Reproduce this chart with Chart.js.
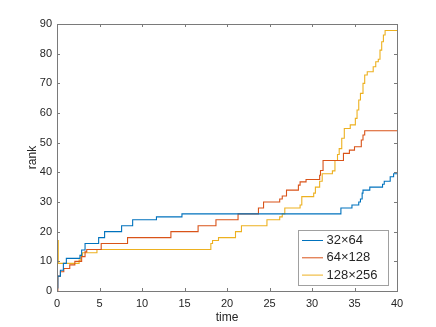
<!DOCTYPE html>
<html>
<head>
<meta charset="utf-8">
<script src="https://cdn.jsdelivr.net/npm/chart.js@4"></script>
<style>
  html, body { margin: 0; padding: 0; background: #fff; }
  #wrap { width: 436px; height: 327px; }
</style>
</head>
<body>
<div id="wrap"><canvas id="myChart"></canvas></div>
<script>
// data (step series: value becomes r at time t)
var labels = ['32\u00d764', '64\u00d7128', '128\u00d7256']

var blueT = [0, 0.1, 0.4, 0.75, 1.1, 2.7, 2.9, 3.3, 4.9, 5.6, 7.6, 8.9, 11.7, 14.7, 33.4, 34.7, 35.5, 35.7, 35.9, 36.0, 36.8, 38.3, 38.5, 39.2, 39.6, 40]
var blueR = [1, 5, 7, 9.3, 11, 12, 13.8, 16, 18, 20, 22, 24, 25, 26, 28, 29, 30, 31, 33, 34, 35, 36, 37, 38.5, 39.5, 39.5]

var redT = [0, 0.1, 0.4, 0.8, 1.5, 2.1, 2.9, 3.3, 3.5, 5.2, 8.3, 13.4, 16.6, 18.7, 21.3, 23.7, 24.3, 26.2, 26.5, 27.0, 28.4, 28.6, 29.3, 30.9, 31.0, 31.3, 33.7, 34.4, 35.0, 35.8, 36.0, 36.2, 40]
var redR = [0, 5, 6.5, 7.6, 8.8, 10, 11.6, 13.2, 14, 16, 18, 20, 22, 24, 26, 28, 30, 31, 32, 34, 35.7, 36.8, 37.6, 39, 40.6, 44, 46.4, 47.5, 48.6, 50.9, 52.6, 54, 54]

var yellowT = [0, 0.03, 0.15, 2.6, 2.8, 3.0, 4.7, 18.1, 18.3, 19.0, 21.0, 21.7, 24.7, 26.2, 26.5, 26.8, 28.6, 28.8, 30.2, 30.4, 30.9, 31.2, 32.4, 32.7, 33.0, 33.2, 33.5, 33.8, 34.5, 35.1, 35.3, 35.5, 35.7, 36.0, 36.2, 36.5, 37.2, 37.5, 37.8, 38.0, 38.2, 38.4, 38.6, 40]
var yellowR = [0, 17, 9.3, 10.4, 12, 12.9, 14, 16, 17, 18, 20, 22, 24, 25, 26, 28, 29, 31.8, 33, 35, 37, 39.5, 40.5, 44, 46, 48, 51.5, 54.8, 56, 58.2, 61, 64.4, 66.6, 70, 72.8, 73.9, 75.6, 77.3, 78.1, 81.2, 84, 86.3, 87.8, 88]

var xTicks = [0, 5, 10, 15, 20, 25, 30, 35, 40]
var yTicks = [0, 10, 20, 30, 40, 50, 60, 70, 80, 90]

var colors = ['#0072BD', '#D95319', '#EDB120']
var textColor = '#262626'
var axisColor = '#7a7a7a'
var fontFamily = '"Liberation Sans", Arial, Helvetica, sans-serif'

function toPoints(ts, rs){
    return ts.map(function(t, i){ return {x: t, y: rs[i]} })
}

// box, inward ticks and legend, matlab style
var matlabAxes = {
    id: 'matlabAxes',
    afterDraw: function(chart){
        var ctx = chart.ctx
        var a = chart.chartArea
        var xs = chart.scales.x
        var ys = chart.scales.y
        ctx.save()
        ctx.strokeStyle = axisColor
        ctx.lineWidth = 1
        ctx.strokeRect(Math.round(a.left) + 0.5, Math.round(a.top) + 0.5, Math.round(a.right - a.left), Math.round(a.bottom - a.top))
        ctx.beginPath()
        xTicks.forEach(function(v){
            var px = Math.round(xs.getPixelForValue(v)) + 0.5
            ctx.moveTo(px, a.bottom); ctx.lineTo(px, a.bottom - 3)
            ctx.moveTo(px, a.top); ctx.lineTo(px, a.top + 3)
        })
        yTicks.forEach(function(v){
            var py = Math.round(ys.getPixelForValue(v)) + 0.5
            ctx.moveTo(a.left, py); ctx.lineTo(a.left + 3, py)
            ctx.moveTo(a.right, py); ctx.lineTo(a.right - 3, py)
        })
        ctx.stroke()

        // legend
        var bx = 298.5, by = 230.5, bw = 90, bh = 55
        ctx.fillStyle = '#fff'
        ctx.fillRect(bx, by, bw, bh)
        ctx.strokeStyle = '#a0a0a0'
        ctx.strokeRect(bx, by, bw, bh)
        ctx.font = '13px ' + fontFamily
        ctx.textBaseline = 'middle'
        ctx.textAlign = 'left'
        chart.data.datasets.forEach(function(ds, i){
            var cy = 240.5 + i * 17.3
            ctx.strokeStyle = ds.borderColor
            ctx.lineWidth = 1
            ctx.beginPath()
            ctx.moveTo(302, cy); ctx.lineTo(323, cy)
            ctx.stroke()
            ctx.fillStyle = textColor
            ctx.fillText(ds.label, 326.5, cy)
        })
        ctx.restore()
    }
}

var ctx = document.getElementById('myChart')

new Chart(ctx, {
    type: 'line',
    data: {
        datasets: [
            {label: labels[0], data: toPoints(blueT, blueR), borderColor: colors[0]},
            {label: labels[1], data: toPoints(redT, redR), borderColor: colors[1]},
            {label: labels[2], data: toPoints(yellowT, yellowR), borderColor: colors[2]}
        ]
    },
    options: {
        responsive: true,
        maintainAspectRatio: false,
        animation: false,
        events: [],
        datasets: {
            line: {
                stepped: true,
                borderWidth: 1.1,
                pointRadius: 0,
                fill: false
            }
        },
        layout: {
            padding: {left: 0, right: 39, top: 24, bottom: 0}
        },
        plugins: {
            legend: {display: false},
            tooltip: {enabled: false}
        },
        scales: {
            x: {
                type: 'linear',
                min: 0,
                max: 40,
                afterBuildTicks: function(s){ s.ticks = xTicks.map(function(v){ return {value: v} }) },
                afterFit: function(s){ s.height = 36 },
                grid: {display: false, drawTicks: false},
                border: {display: false},
                ticks: {
                    color: textColor,
                    padding: 6,
                    maxRotation: 0,
                    font: {family: fontFamily, size: 11}
                },
                title: {
                    display: true,
                    text: 'time',
                    color: textColor,
                    padding: {top: 0, bottom: 2},
                    font: {family: fontFamily, size: 12}
                }
            },
            y: {
                type: 'linear',
                min: 0,
                max: 90,
                afterBuildTicks: function(s){ s.ticks = yTicks.map(function(v){ return {value: v} }) },
                afterFit: function(s){ s.width = 57 },
                grid: {display: false, drawTicks: false},
                border: {display: false},
                ticks: {
                    color: textColor,
                    padding: 5,
                    font: {family: fontFamily, size: 11}
                },
                title: {
                    display: true,
                    text: 'rank',
                    color: textColor,
                    padding: {top: 25, bottom: 0},
                    font: {family: fontFamily, size: 12}
                }
            }
        }
    },
    plugins: [matlabAxes]
});
</script>
</body>
</html>
